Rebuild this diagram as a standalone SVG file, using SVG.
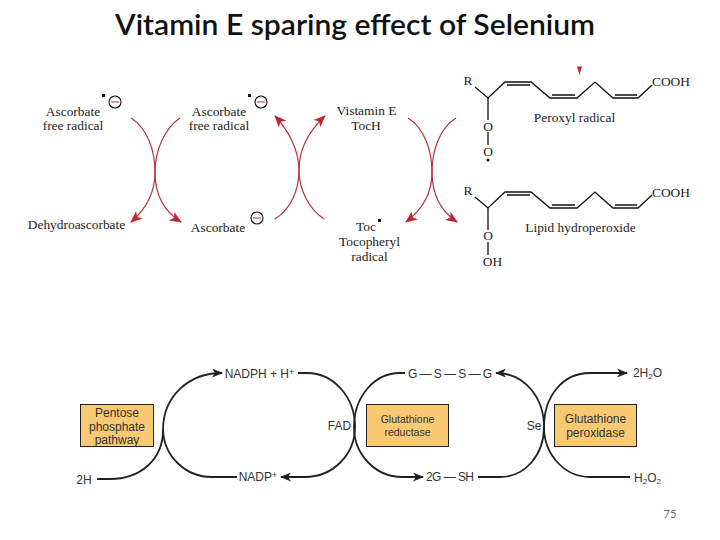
<svg xmlns="http://www.w3.org/2000/svg" width="720" height="540" viewBox="0 0 720 540">
<style>
.s{font-family:"Liberation Serif","Times New Roman",serif;font-size:13.400px;fill:#222;text-anchor:middle}
.f{font-family:"Liberation Sans",Arial,sans-serif;font-size:12px;fill:#333;text-anchor:middle}
.r{fill:none;stroke:#b8323a;stroke-width:1.2}
.k{fill:none;stroke:#222;stroke-width:1.800}
.b{fill:#f9c873;stroke:#222;stroke-width:1}
.m{fill:none;stroke:#111;stroke-width:1.300}
.c{fill:#fff;stroke:#111;stroke-width:1.100}
.n{stroke:#a33;stroke-width:1}
</style>
<defs>
<marker id="ra" viewBox="0 0 12 10" refX="11" refY="5" markerWidth="12" markerHeight="10" markerUnits="userSpaceOnUse" orient="auto"><path d="M0,0 L12,5 L0,10 L3,5 Z" fill="#c4242f"/></marker>
<marker id="ka" viewBox="0 0 11 9" refX="10" refY="4.500" markerWidth="11" markerHeight="9" markerUnits="userSpaceOnUse" orient="auto"><path d="M0,0 L11,4.500 L0,9 L3,4.500 Z" fill="#222"/></marker>
</defs>
<rect width="720" height="540" fill="#fff"/>
<text x="355" y="35" style="font-family:Lato,'Open Sans',sans-serif;font-size:29px;font-weight:600;text-anchor:middle;fill:#111" textLength="480" lengthAdjust="spacingAndGlyphs">Vitamin E sparing effect of Selenium</text>

<g id="connectors">
<path class="r" marker-end="url(#ra)" d="M131,118 C147,128 155,150 155,172 C155,195 145,210 131,222"/>
<path class="r" marker-end="url(#ra)" d="M180,118 C165,128 155,150 155,172 C155,195 165,212 181,222"/>
<path class="r" marker-end="url(#ra)" d="M275,219 C291,209 299,190 299,170 C299,150 288,130 275,116"/>
<path class="r" marker-end="url(#ra)" d="M324,219 C309,209 299,190 299,170 C299,148 310,130 325,116"/>
<path class="r" marker-end="url(#ra)" d="M408,118 C424,128 432,150 432,172 C432,195 422,210 406,222"/>
<path class="r" marker-end="url(#ra)" d="M456,118 C440,128 432,150 432,172 C432,195 442,212 457,222"/>
<path class="k" marker-end="url(#ka)" d="M97,479 L110,479 C140,479 163,460 163,430 C163,397 188,373 222,373"/>
<path class="k" d="M237,477 L212,477 C185,477 164,456 163,430"/>
<path class="k" marker-end="url(#ka)" d="M298,373 L307,373 C333.500,373 355,397 355,427 C355,455 332.500,477 305,477 L281,477"/>
<path class="k" marker-end="url(#ka)" d="M405,373 L400,373 C374,373 354,397 354,427 C354,455 376,477 402,477 L423,477"/>
<path class="k" marker-end="url(#ka)" d="M478,477 L500,477 C525,477 544,455 544,427 C544,397 524,373 496,373"/>
<path class="k" d="M630,477 L590,477 C565,477 544,455 544,427 C544,397 562,373 590,373"/>
<path class="k" marker-end="url(#ka)" d="M590,373 L627,373"/>
</g>

<g id="ascorbate-free-radical-1"><text class="s" x="73" y="116">Ascorbate</text><text class="s" x="73" y="130">free radical</text><rect x="102" y="94" width="3" height="3" fill="#111"/><circle class="c" cx="115" cy="102" r="6"/><path class="n" d="M111,102H119"/></g>
<g id="ascorbate-free-radical-2"><text class="s" x="219" y="116">Ascorbate</text><text class="s" x="219" y="130">free radical</text><rect x="248" y="94" width="3" height="3" fill="#111"/><circle class="c" cx="261" cy="102" r="6"/><path class="n" d="M257,102H265"/></g>
<g id="dehydroascorbate"><text class="s" x="76.500" y="229">Dehydroascorbate</text></g>
<g id="ascorbate"><text class="s" x="218" y="232">Ascorbate</text><circle class="c" cx="257" cy="218" r="6"/><path class="n" d="M253,218H261"/></g>
<g id="vitamin-e"><text class="s" x="366.500" y="115">Vistamin E</text><text class="s" x="366" y="130">TocH</text></g>
<g id="tocopheryl"><text class="s" x="366" y="231">Toc</text><rect x="378" y="219" width="3" height="3" fill="#111"/><text class="s" x="369.500" y="246">Tocopheryl</text><text class="s" x="369.500" y="261">radical</text></g>

<g id="peroxyl-radical">
<text class="s" x="468" y="85">R</text>
<path class="m" d="M475,87 L488,98 L505,82 L531,82 L550,98 L577,98 L595,82 L613,98 L638,98 L652,85"/>
<path class="m" d="M507,85 L530,85 M552,95 L575,95 M615,95 L637,95"/>
<path class="m" d="M488,98 V120 M488,132 V145"/>
<text class="s" x="671" y="85.500">COOH</text>
<text class="s" x="488" y="130.500">O</text><text class="s" x="488" y="155.500">O</text>
<circle cx="488" cy="160" r="1.500" fill="#111"/>
<path d="M577,66.500 L582,66.500 L579.500,75 Z" fill="#c4242f"/>
<text class="s" x="574.500" y="122">Peroxyl radical</text>
</g>
<g id="lipid-hydroperoxide">
<text class="s" x="468" y="195">R</text>
<path class="m" d="M475,197 L488,208 L505,192 L531,192 L550,208 L577,208 L595,192 L613,208 L638,208 L652,195"/>
<path class="m" d="M507,195 L530,195 M552,205 L575,205 M615,205 L637,205"/>
<path class="m" d="M488,208 V230 M488,242 V255"/>
<text class="s" x="671" y="196.500">COOH</text>
<text class="s" x="488" y="240">O</text><text class="s" x="492.500" y="265.500">OH</text>
<text class="s" x="580.500" y="232">Lipid hydroperoxide</text>
</g>

<g id="pentose-phosphate-pathway"><rect class="b" x="80.500" y="404.500" width="73" height="42"/><text class="f" x="117" y="417">Pentose</text><text class="f" x="117" y="430.500">phosphate</text><text class="f" x="117" y="444">pathway</text></g>
<g id="glutathione-reductase"><rect class="b" x="366.500" y="404.500" width="82" height="42"/><text class="f" x="407.500" y="423" style="font-size:10.500px">Glutathione</text><text class="f" x="407.500" y="436" style="font-size:10.500px">reductase</text></g>
<g id="glutathione-peroxidase"><rect class="b" x="554.500" y="404.500" width="82" height="42"/><text class="f" x="595.500" y="423">Glutathione</text><text class="f" x="595.500" y="436.500">peroxidase</text></g>

<g id="label-2h"><text class="f" x="84" y="483.500">2H</text></g>
<g id="nadph"><text class="f" x="259.500" y="377.500">NADPH + H<tspan dy="-3" font-size="9">+</tspan></text></g>
<g id="nadp"><text class="f" x="258" y="481">NADP<tspan dy="-3" font-size="9">+</tspan></text></g>
<g id="fad"><text class="f" x="339.500" y="430">FAD</text></g>
<g id="gssg"><text class="f" x="450" y="377.500" textLength="84">G — S — S — G</text></g>
<g id="gsh"><text class="f" x="450" y="481" textLength="48">2G — SH</text></g>
<g id="se"><text class="f" x="534" y="430">Se</text></g>
<g id="water"><text class="f" x="647.500" y="377">2H<tspan dy="2" font-size="8">2</tspan><tspan dy="-2">O</tspan></text></g>
<g id="peroxide"><text class="f" x="647.500" y="481.500">H<tspan dy="2" font-size="8">2</tspan><tspan dy="-2">O</tspan><tspan dy="2" font-size="8">2</tspan></text></g>

<text x="670" y="518" style="font-family:Lato,'Open Sans',sans-serif;font-size:11px;fill:#666;text-anchor:middle">75</text>
</svg>
